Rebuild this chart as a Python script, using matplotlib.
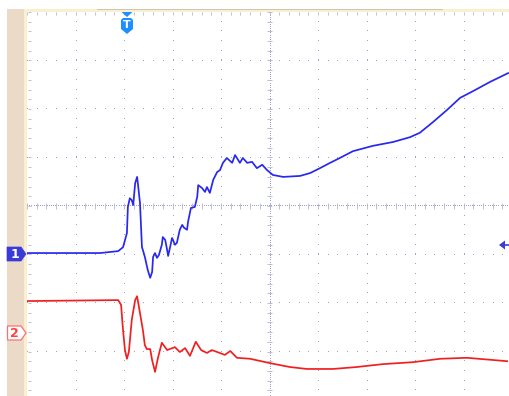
import numpy as np
import matplotlib
matplotlib.use("Agg")
import matplotlib.pyplot as plt
from matplotlib.patches import Polygon, Rectangle

# ---- data (screen divisions; x: time div from left edge, y: div from centre) ----
ch1_t = [0.00, 1.51, 1.88, 1.98, 2.06, 2.08, 2.12, 2.16, 2.19, 2.23, 2.27, 2.29, 2.33,
         2.37, 2.39, 2.43, 2.49, 2.54, 2.58, 2.60, 2.64, 2.68, 2.72, 2.78, 2.80, 2.85,
         2.89, 2.91, 2.95, 2.99, 3.01, 3.05, 3.09, 3.15, 3.20, 3.24, 3.30, 3.32, 3.38,
         3.46, 3.51, 3.53, 3.61, 3.67, 3.71, 3.77, 3.84, 3.92, 3.98, 4.04, 4.12, 4.23,
         4.29, 4.39, 4.45, 4.54, 4.64, 4.74, 4.85, 4.95, 5.07, 5.28, 5.63, 5.84, 6.04,
         6.25, 6.45, 6.72, 7.13, 7.55, 7.90, 8.10, 8.37, 8.66, 8.93, 9.20, 9.55, 9.92]
ch1_v = [-0.97, -0.97, -0.93, -0.85, -0.56, -0.02, 0.16, 0.12, 0.02, 0.47, 0.60, 0.43, 0.06,
         -0.85, -0.91, -1.05, -1.32, -1.48, -1.36, -1.05, -0.97, -1.07, -1.01, -0.80, -0.64, -0.70,
         -0.91, -1.03, -0.85, -0.66, -0.70, -0.80, -0.76, -0.49, -0.39, -0.45, -0.49, -0.33, -0.04,
         -0.02, 0.19, 0.43, 0.37, 0.29, 0.39, 0.27, 0.54, 0.70, 0.74, 0.89, 0.99, 0.89,
         1.05, 0.89, 0.99, 0.89, 0.91, 0.78, 0.85, 0.74, 0.64, 0.60, 0.62, 0.68, 0.78,
         0.89, 0.99, 1.13, 1.24, 1.32, 1.42, 1.51, 1.73, 1.98, 2.23, 2.37, 2.56, 2.74]

ch2_t = [0.00, 1.88, 1.94, 1.98, 2.02, 2.06, 2.10, 2.16, 2.23, 2.27, 2.33, 2.39, 2.43,
         2.47, 2.54, 2.58, 2.64, 2.70, 2.78, 2.89, 3.05, 3.15, 3.26, 3.36, 3.48, 3.59,
         3.71, 3.81, 3.92, 4.08, 4.19, 4.33, 4.60, 5.01, 5.42, 5.77, 6.31, 6.80, 7.34,
         7.96, 8.52, 9.07, 9.90]
ch2_v = [-1.96, -1.94, -2.04, -2.56, -2.97, -3.15, -3.01, -2.35, -1.94, -1.86, -2.21, -2.56, -2.87,
         -2.95, -2.95, -3.18, -3.42, -3.13, -2.82, -2.97, -2.91, -3.01, -2.93, -3.09, -2.80, -2.97,
         -3.03, -2.97, -3.01, -3.07, -2.99, -3.13, -3.15, -3.24, -3.32, -3.36, -3.36, -3.32, -3.26,
         -3.22, -3.15, -3.13, -3.20]

ch_labels = ["1", "2"]
ch_colors = ["#2828f0", "#f02020"]

# ---- figure ----
W, H = 509, 396
DIV = 48.5
fig = plt.figure(figsize=(W / 100, H / 100), dpi=100)
fig.patch.set_facecolor("white")

x0, ytop = 27, 12
ax = fig.add_axes([x0 / W, 0, (W - x0) / W, (H - ytop) / H])
ax.set_xlim(0, (W - x0) / DIV)
ax.set_ylim(-(H - 206) / DIV, 4)
ax.axis("off")

gc = "#a0a0c8"
tc = "#b4b4d2"
step = 0.2
xs_all = np.arange(0, 10.001, step)
ys_all = np.arange(-4, 4.001, step)
# dotted graticule
for k in range(1, 10):
    if k == 5:
        continue
    ax.plot(np.full_like(ys_all, k), ys_all, ",", color=gc)
for j in range(-3, 4):
    if j == 0:
        continue
    ax.plot(xs_all, np.full_like(xs_all, j), ",", color=gc)
# centre axes: dense dots and ticks
dense_x = np.arange(0, 10.001, 0.045)
dense_y = np.arange(-4, 4.001, 0.045)
ax.plot(dense_x, np.zeros_like(dense_x), ",", color=gc)
ax.plot(np.full_like(dense_y, 5), dense_y, ",", color=gc)
tk = 0.06
ax.vlines(xs_all, -tk, tk, color=tc, lw=0.6)
ax.hlines(ys_all, 5 - tk, 5 + tk, color=tc, lw=0.6)
# border ticks (top and left)
ax.plot(dense_x, np.full_like(dense_x, 4 - 0.01), ",", color=gc)
ax.vlines(xs_all, 4 - tk, 4, color=tc, lw=0.6)
ax.hlines(ys_all, 0.02, 0.02 + tk, color=tc, lw=0.6)

# traces
ax.plot(ch1_t, ch1_v, color=ch_colors[0], lw=1.25, solid_joinstyle="round")
ax.plot(ch2_t, ch2_v, color=ch_colors[1], lw=1.25, solid_joinstyle="round")

# ---- decorations overlay in pixel coordinates ----
ov = fig.add_axes([0, 0, 1, 1])
ov.set_xlim(0, W)
ov.set_ylim(H, 0)
ov.axis("off")
ov.patch.set_alpha(0)

ov.add_patch(Rectangle((7, 9), 19, H - 9, color="#ebdac8", lw=0))
ov.add_patch(Rectangle((24, 9), W - 24, 3, color="#f8f0cf", lw=0))
ov.add_patch(Rectangle((97, 8.5), 346, 1.5, color="#cfc4b0", lw=0))
ov.add_patch(Rectangle((24, 9), 3, H - 9, color="#f8f0cf", lw=0))

# channel 1 marker
ov.add_patch(Polygon([(7, 247), (21, 247), (26, 254), (21, 261), (7, 261)],
                     closed=True, fc="#3a3ad8", ec="#3a3ad8", lw=0.5))
ov.text(14.5, 254.5, ch_labels[0], color="white", fontsize=9, fontweight="bold",
        ha="center", va="center")
# channel 2 marker
ov.add_patch(Polygon([(7.5, 326), (21, 326), (26, 333), (21, 340), (7.5, 340)],
                     closed=True, fc="white", ec="#ff7070", lw=0.9))
ov.text(14.5, 333.5, ch_labels[1], color="#ff4040", fontsize=9, fontweight="bold",
        ha="center", va="center")

# trigger marker
ov.add_patch(Polygon([(121.5, 12), (132.5, 12), (127, 17)], closed=True,
                     fc="#1e8fff", ec="none"))
ov.add_patch(Polygon([(121, 20), (123, 18), (131, 18), (133, 20), (133, 29),
                      (127, 34), (121, 29)], closed=True, fc="#1e8fff", ec="none"))
ov.text(127, 25.5, "T", color="white", fontsize=8, fontweight="bold",
        ha="center", va="center")

# right side level arrow for channel 1
ov.add_patch(Polygon([(499, 245), (505, 240.5), (505, 249.5)], closed=True,
                     fc="#3a3ad8", ec="none"))
ov.plot([504, 509], [245, 245], color="#3a3ad8", lw=1.2)

fig.savefig("out.png", dpi=100)
